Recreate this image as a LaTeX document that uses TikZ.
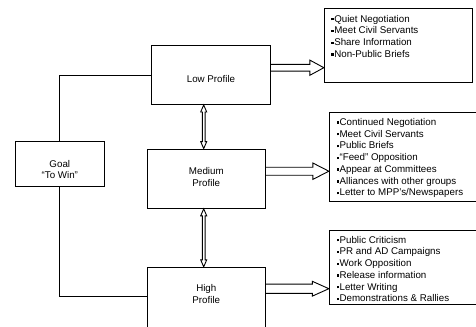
\documentclass[tikz,border=0pt]{standalone}
\usepackage{fontspec}
\setmainfont{Liberation Sans}
\usetikzlibrary{calc}
\newcommand\bul{\rule[1.7pt]{2.3pt}{2.3pt}\hspace{0.7pt}}
\newcommand\vdarrow[2]{\draw let \p1=(#1), \p2=(#2) in
 (\x1,\y1) -- (\x1+3bp,\y1-7bp) -- (\x1+1.4bp,\y1-7bp) -- (\x1+1.4bp,\y2+7bp) -- (\x1+3bp,\y2+7bp) -- (\x1,\y2) -- (\x1-3bp,\y2+7bp) -- (\x1-1.4bp,\y2+7bp) -- (\x1-1.4bp,\y1-7bp) -- (\x1-3bp,\y1-7bp) -- cycle;}
\newcommand\blockarrow[5]{\draw let \p1=(#1), \p2=(#2) in
 (\x1,\y1+#3) -- (\x2-#5,\y1+#3) -- (\x2-#5,\y1+#4) -- (\x2,\y1) -- (\x2-#5,\y1-#4) -- (\x2-#5,\y1-#3) -- (\x1,\y1-#3);}
\begin{document}
\begin{tikzpicture}[x=1bp,y=-1bp,line width=0.9bp,line join=miter,
  box/.style={draw, rectangle, inner sep=0},
  lbl/.style={font=\fontsize{9.8}{11.8}\selectfont, align=center, inner sep=0},
  list/.style={font=\fontsize{9.8}{11.8}\selectfont, align=left, anchor=north west, inner sep=0}]
\useasboundingbox (0,0) rectangle (476,326);
\clip (0,0) rectangle (476,326);
% boxes
\node[box, minimum width=89bp, minimum height=44.3bp] (goal) at (59.8,163.8) {};
\node[lbl] (goaltxt) at (59.8,169.5) {Goal\\“To Win”};
\node[box, minimum width=118.6bp, minimum height=58.8bp] (low) at (211,75.1) {};
\node[lbl] (lowtxt) at (211,78.7) {Low Profile};
\node[box, minimum width=118.7bp, minimum height=59.3bp] (med) at (206.3,178.7) {};
\node[lbl] (medtxt) at (206.3,176.7) {Medium\\Profile};
\node[box, minimum width=118.7bp, minimum height=80bp] (high) at (206.3,307.3) {};
\node[lbl] (hightxt) at (206.3,294.3) {High\\Profile};
% list boxes
\node[box, minimum width=148bp, minimum height=73.3bp] (b1) at (398.3,45.3) {};
\node[list] (l1) at ($(b1.north west)+(7,6.3)$) {\bul Quiet Negotiation\\\bul Meet Civil Servants\\\bul Share Information\\\bul Non-Public Briefs};
\node[box, minimum width=148bp, minimum height=88.7bp] (b2) at (403.3,156.7) {};
\node[list] (l2) at ($(b2.north west)+(7.3,6)$) {\bul Continued Negotiation\\\bul Meet Civil Servants\\\bul Public Briefs\\\bul “Feed” Opposition\\\bul Appear at Committees\\\bul Alliances with other groups\\\bul Letter to MPP’s/Newspapers};
\node[box, minimum width=148bp, minimum height=74.3bp] (b3) at (403.3,267.2) {};
\node[list] (l3) at ($(b3.north west)+(7.3,6)$) {\bul Public Criticism\\\bul PR and AD Campaigns\\\bul Work Opposition\\\bul Release information\\\bul Letter Writing\\\bul Demonstrations \& Rallies};
% goal connectors
\coordinate (hin) at (147,296.7);
\draw (goal.north) |- (low.west);
\draw (goal.south) |- (hin);
% vertical double arrows
\coordinate (ax) at (203.7,0);
\vdarrow{ax |- low.south}{ax |- med.north}
\vdarrow{ax |- med.south}{ax |- high.north}
% block arrows
\coordinate (y1) at (0,67.7);
\coordinate (y2) at (0,171.2);
\coordinate (y3) at (0,288.7);
\blockarrow{low.east |- y1}{b1.west |- y1}{3.4bp}{7.6bp}{14bp}
\blockarrow{med.east |- y2}{b2.west |- y2}{4bp}{8.2bp}{16bp}
\blockarrow{high.east |- y3}{b3.west |- y3}{4.6bp}{7.4bp}{16.5bp}
\end{tikzpicture}
\end{document}
